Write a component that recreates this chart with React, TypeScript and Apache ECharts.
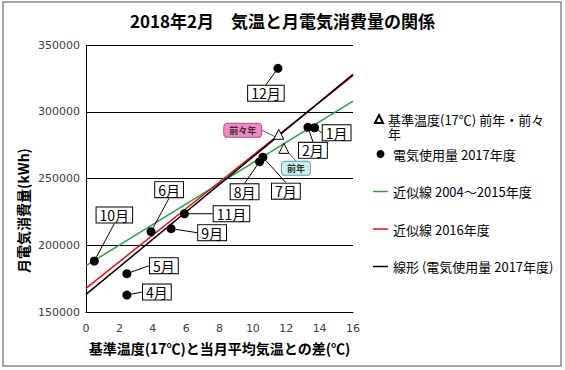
import React, { useEffect, useRef } from "react";
import * as echarts from "echarts";

const titleText = "2018年2月　気温と月電気消費量の関係";
const xAxisName = "基準温度(17℃)と当月平均気温との差(℃)";
const yAxisName = "月電気消費量(kWh)";

// 2017年度 monthly points
const monthNames = ["4月", "5月", "6月", "7月", "8月", "9月", "10月", "11月", "12月", "1月", "2月"];
const tempDiff = [2.45, 2.45, 3.9, 10.6, 10.4, 5.1, 0.5, 5.9, 11.5, 13.7, 13.3];
const usage = [162700, 178700, 210200, 266000, 262500, 212400, 188200, 223600, 332500, 288000, 288300];

// 基準温度 points (前々年, 前年)
const baseNames = ["前々年", "前年"];
const baseTemp = [11.55, 11.86];
const baseUsage = [283100, 272600];

// trend lines endpoints
const fitX = [0, 16];
const fit0415Y = [184700, 308000];
const fit2016Y = [167750, 327100];
const fit2017Y = [163250, 328000];

const seriesNames = {
  base: "基準温度(17℃) 前年・前々年",
  usage: "電気使用量 2017年度",
  fit0415: "近似線 2004～2015年度",
  fit2016: "近似線 2016年度",
  fit2017: "線形 (電気使用量 2017年度)",
};

// label offsets (styling)
const monthLabelOffsets = [
  [30, -3], [37, -8], [18, -42], [23, 34], [-15, 30], [41, 4],
  [20, -46], [47, 0], [-12, 25], [22, 5], [5, 23],
];
const baseLabelOffsets = [[-36, -4], [12, 20]];
const baseLabelColors = ["#f584c8", "#c8f0f0"];
const baseLabelBorders = ["#a05a80", "#5f9ea0"];

const CJK = "'Noto Sans CJK JP', 'Noto Sans', sans-serif";
const LINE_ICON = "path://M0,0H15V1.5H0Z";

export default function App() {
  const ref = useRef<HTMLDivElement>(null);
  useEffect(() => {
    if (!ref.current) return;
    const chart = echarts.init(ref.current, undefined, { renderer: "svg" });
    const pair = (xs: number[], ys: number[]) => xs.map((x, i) => [x, ys[i]]);
    chart.setOption({
      animation: false,
      backgroundColor: "#fff",
      title: {
        text: titleText,
        left: "center",
        top: 7,
        textStyle: { fontFamily: CJK, fontSize: 17, fontWeight: "bold", color: "#000" },
      },
      graphic: [
        {
          type: "rect",
          shape: { x: 3, y: 2, width: 558, height: 364 },
          style: { fill: "none", stroke: "#888", lineWidth: 1.5 },
          silent: true,
          z: -10,
        },
      ],
      grid: { left: 86, right: 212, top: 45, bottom: 58 },
      xAxis: {
        type: "value",
        min: 0,
        max: 16,
        interval: 2,
        name: xAxisName,
        nameLocation: "middle",
        nameGap: 29,
        nameTextStyle: { fontFamily: CJK, fontSize: 14, fontWeight: "bold", color: "#000" },
        axisLine: { show: true, lineStyle: { color: "#000", width: 1 } },
        axisTick: { show: false },
        splitLine: { show: false },
        axisLabel: { fontFamily: "'DejaVu Sans', sans-serif", fontSize: 11, color: "#404040", margin: 11 },
      },
      yAxis: {
        type: "value",
        min: 150000,
        max: 350000,
        interval: 50000,
        name: yAxisName,
        nameLocation: "middle",
        nameRotate: 90,
        nameGap: 56,
        nameTextStyle: {
          fontFamily: CJK,
          fontSize: 14,
          fontWeight: "bold",
          color: "#000",
          padding: [0, 64, 0, 0],
        },
        axisLine: { show: true, lineStyle: { color: "#000", width: 1 } },
        axisTick: { show: false },
        splitLine: { show: true, lineStyle: { color: "#000", width: 1 } },
        axisLabel: {
          fontFamily: "'DejaVu Sans', sans-serif",
          fontSize: 11,
          color: "#404040",
          margin: 6,
          formatter: (v: number) => String(v),
        },
      },
      legend: [
        {
          data: [{ name: seriesNames.base, icon: "triangle" }],
          orient: "vertical",
          left: 374,
          top: 98,
          padding: 0,
          itemWidth: 8,
          itemHeight: 8,
          formatter: (n: string) => "\n" + n.replace("前々年", "前々\n年"),
          textStyle: { fontFamily: CJK, fontSize: 13, color: "#000", lineHeight: 14 },
        },
        {
          data: [
            { name: seriesNames.usage, icon: "circle" },
            { name: seriesNames.fit0415, icon: LINE_ICON },
            { name: seriesNames.fit2016, icon: LINE_ICON },
            { name: seriesNames.fit2017, icon: LINE_ICON },
          ],
          orient: "vertical",
          left: 373,
          top: 146,
          padding: 0,
          itemWidth: 15,
          itemHeight: 8,
          itemGap: 21.5,
          textStyle: { fontFamily: CJK, fontSize: 13, color: "#000", lineHeight: 16 },
        },
      ],
      series: [
        {
          name: seriesNames.fit0415,
          type: "line",
          data: pair(fitX, fit0415Y),
          symbol: "none",
          silent: true,
          lineStyle: { color: "#2ea043", width: 1.5 },
          itemStyle: { color: "#2ea043" },
          z: 2,
        },
        {
          name: seriesNames.fit2016,
          type: "line",
          data: pair(fitX, fit2016Y),
          symbol: "none",
          silent: true,
          lineStyle: { color: "#e01010", width: 1.5 },
          itemStyle: { color: "#e01010" },
          z: 2,
        },
        {
          name: seriesNames.fit2017,
          type: "line",
          data: pair(fitX, fit2017Y),
          symbol: "none",
          silent: true,
          lineStyle: { color: "#000", width: 1.5 },
          itemStyle: { color: "#000" },
          z: 2,
        },
        {
          name: seriesNames.base,
          type: "scatter",
          data: baseNames.map((n, i) => ({
            name: n,
            value: [baseTemp[i], baseUsage[i]],
            label: {
              backgroundColor: baseLabelColors[i],
              borderColor: baseLabelBorders[i],
            },
          })),
          symbol: "triangle",
          symbolSize: 10,
          itemStyle: { color: "#fff", borderColor: "#000", borderWidth: 1, opacity: 1 },
          label: {
            show: true,
            position: "inside",
            formatter: "{b}",
            fontFamily: CJK,
            fontSize: 9,
            fontWeight: "bold",
            color: "#333",
            borderWidth: 1,
            borderRadius: 3,
            padding: [2, 5],
          },
          labelLine: { show: true, lineStyle: { color: "#555", width: 1 } },
          labelLayout: (p: any) => ({ dx: baseLabelOffsets[p.dataIndex][0], dy: baseLabelOffsets[p.dataIndex][1] }),
          z: 5,
        },
        {
          name: seriesNames.usage,
          type: "scatter",
          data: monthNames.map((n, i) => ({ name: n, value: [tempDiff[i], usage[i]] })),
          symbol: "circle",
          symbolSize: 9,
          itemStyle: { color: "#000", opacity: 1 },
          label: {
            show: true,
            position: "inside",
            formatter: "{b}",
            fontFamily: CJK,
            fontSize: 14,
            color: "#000",
            backgroundColor: "#fff",
            borderColor: "#000",
            borderWidth: 1,
            padding: [1, 3, 0, 3],
            lineHeight: 14,
          },
          labelLine: { show: true, lineStyle: { color: "#000", width: 1 } },
          labelLayout: (p: any) => ({ dx: monthLabelOffsets[p.dataIndex][0], dy: monthLabelOffsets[p.dataIndex][1] }),
          z: 6,
        },
      ],
    });
    return () => chart.dispose();
  }, []);
  return (
    <div
      ref={ref}
      style={{ position: "absolute", left: 0, top: 0, width: 565, height: 370, background: "#fff" }}
    />
  );
}
